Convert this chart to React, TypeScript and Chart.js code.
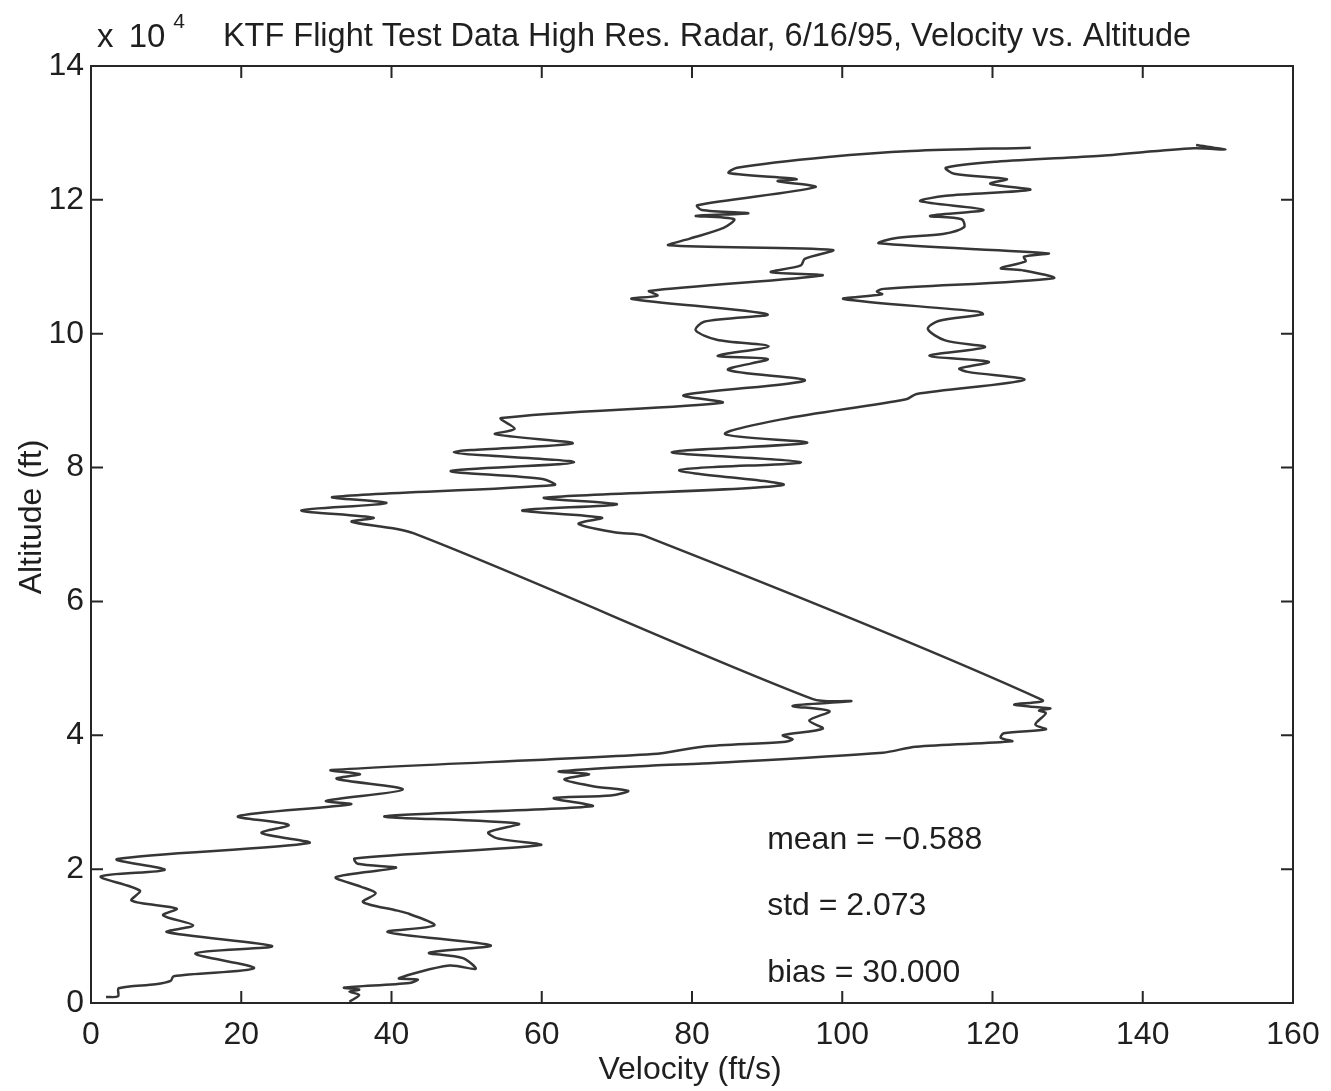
import { useEffect, useRef } from "react";
import { Chart, registerables } from "chart.js";

Chart.register(...registerables);

// Radar track, first pass: velocity (ft/s) against altitude (ft)
const leftVelocity = [
  2.0, 3.6, 3.7, 8.6, 10.6, 11.0, 21.7, 13.9, 24.1, 10.1, 13.6, 9.6, 11.4, 5.4, 6.5, 1.3, 9.8,
  3.5, 29.0, 22.7, 26.3, 19.6, 34.6, 31.3, 41.5, 32.7, 35.8, 32.0, 74.8, 81.4, 92.1, 93.4, 92.1,
  97.4, 95.6, 98.3, 93.4, 101.2, 96.1, 42.9, 34.7, 37.6, 28.0, 39.3, 32.2, 61.7, 60.1, 47.9, 64.3,
  48.3, 64.1, 53.8, 56.4, 54.6, 84.0, 78.9, 95.0, 84.8, 90.1, 83.4, 90.2, 83.3, 80.5, 81.6, 90.0,
  72.0, 75.4, 74.3, 97.3, 90.5, 94.5, 95.0, 98.7, 76.9, 79.7, 84.2, 85.6, 80.5, 87.5, 81.3, 80.7,
  96.4, 91.4, 93.9, 84.9, 86.0, 98.1, 109.2, 125.1,
];
const leftAltitude = [
  900, 1000, 2200, 2800, 3300, 4000, 5200, 7400, 8500, 10600, 11600, 13100, 14100, 15300, 16800, 18900, 19900,
  21500, 23900, 25400, 26600, 27900, 29700, 30200, 31900, 33500, 34200, 34800, 37200, 38300, 39000, 39400, 40000,
  41000, 42200, 43600, 44400, 45100, 45400, 70200, 71900, 72500, 73600, 74700, 75600, 77400, 78300, 79500, 80800,
  82300, 83600, 85000, 85800, 87400, 89700, 90800, 93000, 94600, 96200, 96700, 98100, 99100, 100500, 101800, 102900,
  105200, 105700, 106400, 108700, 109200, 110200, 111200, 112500, 113200, 114200, 115800, 117100, 117600, 118000, 118500, 119200,
  121900, 122800, 123100, 124000, 124800, 126400, 127300, 127800,
];

// Second track, offset by the bias
const rightVelocity = [
  34.4, 35.7, 34.4, 35.7, 33.7, 42.4, 43.5, 41.0, 47.7, 51.2, 49.5, 45.0, 53.2, 39.5, 45.7, 42.4,
  40.8, 36.2, 37.9, 35.9, 32.6, 40.6, 35.5, 35.1, 59.8, 54.1, 52.9, 56.9, 39.1, 66.7, 61.6, 69.2,
  71.5, 66.8, 63.0, 66.3, 62.3, 74.8, 81.4, 105.4, 109.8, 122.6, 121.1, 121.5, 127.1, 125.7, 127.1,
  126.2, 127.7, 124.9, 122.9, 126.6, 73.7, 69.9, 64.9, 68.0, 57.4, 70.0, 60.4, 92.1, 78.3, 94.5,
  77.3, 95.3, 84.4, 91.9, 108.5, 109.9, 124.2, 116.7, 115.6, 119.5, 111.6, 119.0, 113.7, 111.4,
  112.8, 118.7, 118.1, 100.2, 105.3, 104.6, 105.5, 128.1, 123.9, 121.1, 124.4, 124.2, 127.4, 104.9,
  107.2, 113.4, 116.2, 115.9, 111.7, 118.8, 110.4, 113.8, 125.0, 119.7, 121.9, 114.9, 113.8, 120.5,
  134.5, 146.8, 151.0, 147.1,
];
const rightAltitude = [
  200, 1200, 1700, 2000, 2300, 3000, 3500, 3700, 5600, 5100, 6700, 7500, 8600, 10600, 11600, 13300,
  13800, 15100, 16400, 17400, 18800, 20200, 20800, 21600, 23600, 24600, 25500, 26800, 27900, 29400, 30600, 31000,
  31700, 32400, 33400, 34200, 34600, 35500, 35800, 37400, 38300, 39100, 39600, 40300, 40900, 41600, 43300,
  43700, 44000, 44300, 44600, 45300, 69800, 70300, 71600, 72500, 73600, 74500, 75500, 77400, 79600, 80800,
  82300, 83700, 85000, 87200, 90200, 91000, 93100, 94300, 94800, 95800, 96700, 98000, 99000, 100700,
  101900, 102900, 103300, 105200, 105900, 106300, 106700, 108300, 109500, 109800, 110800, 111500, 112000, 113500,
  114300, 114900, 115900, 117100, 117600, 118500, 119800, 120600, 121500, 122400, 123100, 123900, 124800, 125700,
  126600, 127700, 127500, 128200,
];

const xTicks = [0, 20, 40, 60, 80, 100, 120, 140, 160];
const yTicks = [0, 20000, 40000, 60000, 80000, 100000, 120000, 140000];
const yTickLabels = ["0", "2", "4", "6", "8", "10", "12", "14"];
const yExponent = "4";

const titleText = "KTF Flight Test Data High Res. Radar, 6/16/95, Velocity vs. Altitude";
const xTitle = "Velocity (ft/s)";
const yTitle = "Altitude (ft)";

const statLabels = ["mean = \u22120.588", "std = 2.073", "bias = 30.000"];
const statAltitudes = [25000, 15000, 5000];
const statVelocity = 90;

const FONT = '"Liberation Sans", Arial, Helvetica, sans-serif';
const INK = "#1f1f1f";
const LINE = "#363636";

// MATLAB-style boxed axes: inward ticks on all four sides, labels and annotations
const framePlugin = {
  id: "matlabFrame",
  afterDatasetsDraw(chart: any) {
    const { ctx, chartArea, scales } = chart;
    const { left, right, top, bottom } = chartArea;
    const xs = scales.x;
    const ys = scales.y;
    const tick = 12;
    ctx.save();

    ctx.strokeStyle = "#262626";
    ctx.lineWidth = 2;
    ctx.strokeRect(left, top, right - left, bottom - top);
    ctx.beginPath();
    xTicks.forEach((v) => {
      const px = xs.getPixelForValue(v);
      ctx.moveTo(px, bottom);
      ctx.lineTo(px, bottom - tick);
      ctx.moveTo(px, top);
      ctx.lineTo(px, top + tick);
    });
    yTicks.forEach((v) => {
      const py = ys.getPixelForValue(v);
      ctx.moveTo(left, py);
      ctx.lineTo(left + tick, py);
      ctx.moveTo(right, py);
      ctx.lineTo(right - tick, py);
    });
    ctx.stroke();

    ctx.fillStyle = INK;
    ctx.font = `32px ${FONT}`;

    // x tick labels
    ctx.textAlign = "center";
    ctx.textBaseline = "alphabetic";
    xTicks.forEach((v) => {
      ctx.fillText(String(v), xs.getPixelForValue(v), bottom + 41);
    });

    // y tick labels
    ctx.textAlign = "right";
    ctx.textBaseline = "middle";
    yTicks.forEach((v, i) => {
      ctx.fillText(yTickLabels[i], left - 7, ys.getPixelForValue(v));
    });

    // exponent of the altitude axis
    ctx.textAlign = "left";
    ctx.textBaseline = "alphabetic";
    ctx.font = `33px ${FONT}`;
    ctx.fillText("x", left + 6, 47);
    const xw = ctx.measureText("x ").width;
    ctx.fillText("10", left + 6 + xw + 6, 47);
    const tw = ctx.measureText("10").width;
    ctx.font = `21px ${FONT}`;
    ctx.fillText(yExponent, left + 6 + xw + 6 + tw + 8, 28);

    // title
    ctx.font = `32.5px ${FONT}`;
    ctx.textAlign = "center";
    ctx.fillText(titleText, (left + right) / 2 + 15, 46);

    // axis titles
    ctx.font = `32px ${FONT}`;
    ctx.fillText(xTitle, (left + right) / 2 - 2, 1079);
    ctx.save();
    ctx.translate(41, 517);
    ctx.rotate(-Math.PI / 2);
    ctx.textAlign = "center";
    ctx.fillText(yTitle, 0, 0);
    ctx.restore();

    // statistics text
    ctx.textAlign = "left";
    ctx.textBaseline = "middle";
    statLabels.forEach((s, i) => {
      ctx.fillText(s, xs.getPixelForValue(statVelocity), ys.getPixelForValue(statAltitudes[i]) + 4);
    });

    ctx.restore();
  },
};

export default function App() {
  const ref = useRef<HTMLCanvasElement>(null);

  useEffect(() => {
    const canvas = ref.current;
    if (!canvas) return;
    const toPoints = (xs: number[], ys: number[]) => xs.map((v, i) => ({ x: v, y: ys[i] }));
    const chart = new Chart(canvas, {
      type: "scatter",
      data: {
        datasets: [
          {
            data: toPoints(leftVelocity, leftAltitude),
            showLine: true,
            borderColor: LINE,
            borderWidth: 2.5,
            pointRadius: 0,
            tension: 0.3,
            fill: false,
          },
          {
            data: toPoints(rightVelocity, rightAltitude),
            showLine: true,
            borderColor: LINE,
            borderWidth: 2.5,
            pointRadius: 0,
            tension: 0.3,
            fill: false,
          },
        ],
      },
      options: {
        animation: false,
        responsive: false,
        maintainAspectRatio: false,
        devicePixelRatio: 1,
        events: [],
        layout: { padding: { left: 91, right: 38, top: 66, bottom: 88 } },
        plugins: {
          legend: { display: false },
          tooltip: { enabled: false },
          title: { display: false },
        },
        scales: {
          x: { type: "linear", display: false, min: 0, max: 160 },
          y: { type: "linear", display: false, min: 0, max: 140000 },
        },
      },
      plugins: [framePlugin],
    });
    return () => chart.destroy();
  }, []);

  return (
    <div style={{ position: "absolute", left: 0, top: 0, width: 1331, height: 1091, background: "#fff" }}>
      <canvas ref={ref} width={1331} height={1091} style={{ width: 1331, height: 1091, display: "block" }} />
    </div>
  );
}
